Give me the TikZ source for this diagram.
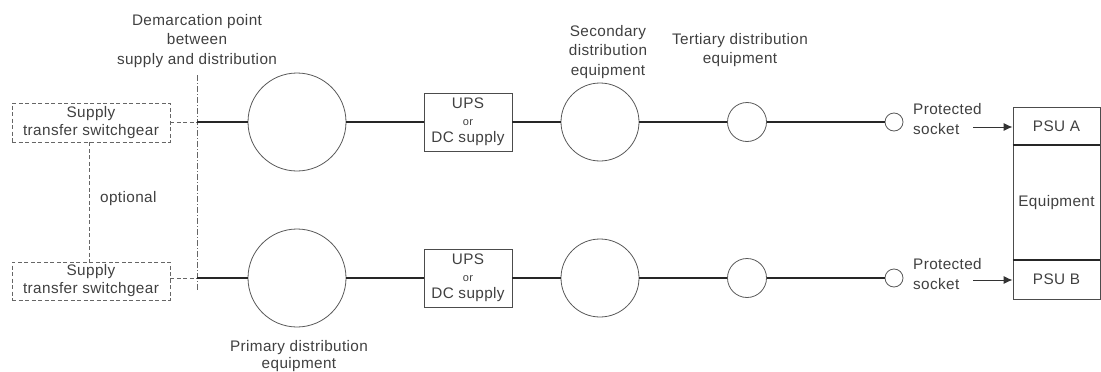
\documentclass[tikz,border=0pt]{standalone}
\usepackage{fontspec}
\setmainfont{Liberation Sans}[LetterSpace=2.5]
\usetikzlibrary{arrows.meta}
\begin{document}
\begin{tikzpicture}[x=1pt,y=-1pt,
  txt/.style={text=black!75, font=\fontsize{15.3}{19.5}\selectfont, inner sep=0pt},
  circ/.style={circle, draw=black!65, line width=0.8pt, minimum size=#1, inner sep=0pt},
  wire/.style={draw=black!85, line width=2.2pt},
  thinbox/.style={draw=black!70, line width=0.9pt, inner sep=0pt},
  dbox/.style={draw=black!60, line width=0.9pt, dash pattern=on 4pt off 2.5pt, inner sep=0pt},
  dline/.style={draw=black!60, line width=0.9pt, dash pattern=on 4pt off 2.5pt},
  demline/.style={draw=black!60, line width=0.8pt, dash pattern=on 6pt off 2pt on 1pt off 2pt},
  feed/.style={draw=black!80, line width=0.9pt, -{Latex[length=9pt,width=8pt]}}
]
\useasboundingbox (0,0) rectangle (1101,372);

% labels above / below
\node[txt, align=center] (demtxt) at (197,41) {Demarcation point\\between\\supply and distribution};
\node[txt, align=center] (sectxt) at (608,52) {Secondary\\distribution\\equipment};
\node[txt, align=center] (tertxt) at (740,50) {Tertiary distribution\\equipment};
\node[txt, align=center, font=\fontsize{15.3}{17.5}\selectfont] (pritxt) at (299,356) {Primary distribution\\equipment};

% switchgear
\node[dbox, txt, align=center, minimum width=158pt, minimum height=39pt, font=\fontsize{15.3}{18}\selectfont] (sw1) at (91,122.5) {Supply\\transfer switchgear};
\node[dbox, txt, align=center, minimum width=158pt, minimum height=38pt, font=\fontsize{15.3}{18}\selectfont] (sw2) at (91,281) {Supply\\transfer switchgear};
\draw[dline] (sw1.south -| 89,0) coordinate (o1) -- (sw2.north -| 89,0) coordinate (o2);
\node[txt, anchor=west] (opt) at (100,199) {optional};

% demarcation
\coordinate (dT) at (197,75);
\coordinate (dB) at (197,290);
\draw[demline] (dT) -- (dB);
\coordinate (d1) at (197,122);
\coordinate (d2) at (197,278);
\draw[dline] (sw1.east |- d1) -- (d1);
\draw[dline] (sw2.east |- d2) -- (d2);

% primary
\node[circ=98pt] (p1) at (297,122) {};
\node[circ=98pt] (p2) at (297,278) {};

% UPS
\node[thinbox, txt, align=center, minimum width=88pt, minimum height=58pt] (u1) at (468,122) {UPS\\[-3pt]{\fontsize{11}{12}\selectfont or}\\[-2pt]DC supply};
\node[thinbox, txt, align=center, minimum width=88pt, minimum height=58pt] (u2) at (468,278) {UPS\\[-3pt]{\fontsize{11}{12}\selectfont or}\\[-2pt]DC supply};

% secondary, tertiary, sockets
\node[circ=78pt] (s1) at (600,122) {};
\node[circ=78pt] (s2) at (600,278) {};
\node[circ=39pt] (t1) at (747,122) {};
\node[circ=39pt] (t2) at (747,278) {};
\node[circ=18pt] (k1) at (894,122) {};
\node[circ=18pt] (k2) at (894,278) {};

\node[txt, align=left, anchor=west] (kt1) at (913,119) {Protected\\socket};
\node[txt, align=left, anchor=west] (kt2) at (913,274) {Protected\\socket};

% wires
\draw[wire] (d1) -- (p1.west);
\draw[wire] (d2) -- (p2.west);
\draw[wire] (p1.east) -- (u1.west);
\draw[wire] (p2.east) -- (u2.west);
\draw[wire] (u1.east) -- (s1.west);
\draw[wire] (u2.east) -- (s2.west);
\draw[wire] (s1.east) -- (t1.west);
\draw[wire] (s2.east) -- (t2.west);
\draw[wire] (t1.east) -- (k1.west);
\draw[wire] (t2.east) -- (k2.west);

% equipment
\node[thinbox, txt, minimum width=87pt, minimum height=38pt] (psuA) at (1056.5,126) {PSU A};
\node[thinbox, txt, minimum width=87pt, minimum height=115pt] (eq) at (1056.5,202.5) {Equipment};
\node[thinbox, txt, minimum width=87pt, minimum height=39pt] (psuB) at (1056.5,279.5) {PSU B};
\draw[draw=black!85, line width=2pt] (psuA.south west) -- (psuA.south east);
\draw[draw=black!85, line width=2pt] (psuB.north west) -- (psuB.north east);

\coordinate (a1) at (973,127);
\coordinate (a2) at (973,280);
\draw[feed] (a1) -- (psuA.west |- a1);
\draw[feed] (a2) -- (psuB.west |- a2);
\end{tikzpicture}
\end{document}
